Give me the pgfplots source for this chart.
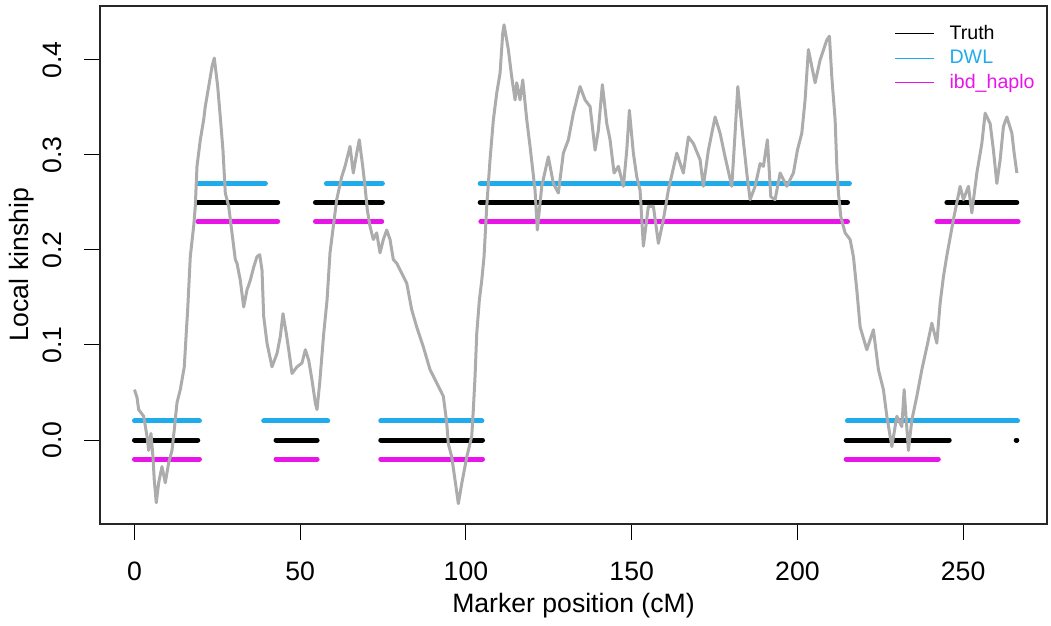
\documentclass[border=0pt]{standalone}
\usepackage{fontspec}
\setmainfont{Liberation Sans}
\usepackage{pgfplots}
\pgfplotsset{compat=1.18}
\usetikzlibrary{calc}
\definecolor{dwl}{RGB}{32,172,234}
\definecolor{ibd}{RGB}{232,20,232}
\definecolor{kin}{RGB}{172,172,172}

\begin{document}
\begin{tikzpicture}
\begin{axis}[
  name=ax,
  scale only axis, width=473.5pt, height=259pt,
  xmin=-10.4, xmax=275.3, ymin=-0.0884, ymax=0.4568,
  xtick={0,50,100,150,200,250},
  ytick={0,0.1,0.2,0.3,0.4},
  xtick pos=bottom, ytick pos=left,
  tick align=outside, major tick length=8pt,
  tick style={black, line width=0.5pt},
  axis line style={line width=0.6pt, black!85},
  /pgf/number format/assume math mode=true,
  ticklabel style={font=\fontsize{13.3}{16}\selectfont},
  xticklabel style={yshift=-7.5pt},
  yticklabel style={rotate=90, anchor=south, yshift=7.5pt,
    /pgf/number format/.cd, fixed, fixed zerofill, precision=1},
  scaled y ticks=false,
  xlabel={Marker position (cM)},
  ylabel={Local kinship},
  label style={font=\fontsize{13.3}{16}\selectfont},
  xlabel style={at={(axis description cs:0.5,0)}, anchor=center, yshift=-41pt},
  ylabel style={at={(axis description cs:-0.0824,0.5)}, anchor=center},
  unbounded coords=jump,
  legend style={draw=none, fill=none, at={(axis cs:229.2,0.439)}, anchor=north west,
    inner xsep=0pt, inner ysep=0pt, row sep=1.75pt,
    nodes={inner ysep=0pt, text height=8pt, text depth=2.5pt},
    font=\fontsize{9.8}{11}\selectfont},
  legend cell align=left,
  legend image code/.code={\draw[#1, line width=0.6pt] (0pt,0pt) -- (19.5pt,0pt);
    \path (25pt,0pt);},
]
\addlegendimage{black}
\addlegendentry{Truth}
\addlegendimage{dwl}
\addlegendentry{\textcolor{dwl}{DWL}}
\addlegendimage{ibd}
\addlegendentry{\textcolor{ibd}{ibd\_haplo}}

% called segments
\addplot[forget plot, black, line width=2.5pt, line cap=round] coordinates {
(0,0) (19.1,0) (19.1,nan)
(19.1,0.25) (43.2,0.25) (43.2,nan)
(42.7,0) (55.1,0) (55.1,nan)
(54.6,0.25) (74.8,0.25) (74.8,nan)
(74.3,0) (105,0) (105,nan)
(104.3,0.25) (215.1,0.25) (215.1,nan)
(214.7,0) (245.8,0) (245.8,nan)
(245.1,0.25) (266.2,0.25) (266.2,nan)
(266.0,0) (266.2,0)
};
\addplot[forget plot, dwl, line width=2.5pt, line cap=round] coordinates {
(0,0.02) (19.6,0.02) (19.6,nan)
(19.1,0.27) (39.5,0.27) (39.5,nan)
(39.0,0.02) (58.3,0.02) (58.3,nan)
(57.9,0.27) (74.8,0.27) (74.8,nan)
(74.3,0.02) (104.8,0.02) (104.8,nan)
(104.3,0.27) (215.7,0.27) (215.7,nan)
(215.1,0.02) (266.4,0.02)
};
\addplot[forget plot, ibd, line width=2.5pt, line cap=round] coordinates {
(0,-0.02) (19.6,-0.02) (19.6,nan)
(19.1,0.23) (43.2,0.23) (43.2,nan)
(42.7,-0.02) (55.1,-0.02) (55.1,nan)
(54.6,0.23) (74.6,0.23) (74.6,nan)
(74.3,-0.02) (105,-0.02) (105,nan)
(104.5,0.23) (215.1,0.23) (215.1,nan)
(214.7,-0.02) (242.5,-0.02) (242.5,nan)
(242.1,0.23) (266.6,0.23)
};

% local kinship estimate
\addplot[forget plot, kin, line width=1.5pt, line join=round] table {
x y
0.00 0.053
0.75 0.045
1.27 0.032
2.78 0.025
3.77 0.004
4.28 -0.011
4.98 0.007
5.58 -0.018
5.97 -0.042
6.58 -0.066
7.30 -0.045
8.30 -0.028
9.29 -0.045
10.32 -0.024
11.32 -0.011
12.01 0.011
12.82 0.039
13.82 0.053
15.03 0.077
15.63 0.113
16.05 0.137
16.84 0.193
17.86 0.225
18.35 0.246
18.86 0.288
19.86 0.316
20.88 0.337
21.36 0.351
22.39 0.372
23.39 0.393
24.08 0.402
25.11 0.372
25.89 0.340
26.70 0.305
27.40 0.260
28.42 0.246
29.42 0.218
30.42 0.190
30.93 0.186
31.93 0.168
32.95 0.140
33.95 0.158
34.94 0.168
35.97 0.182
36.96 0.193
37.78 0.195
38.47 0.179
38.99 0.130
39.98 0.102
41.49 0.077
43.00 0.091
44.00 0.109
44.81 0.133
45.81 0.112
46.53 0.095
47.53 0.070
49.03 0.077
50.54 0.081
51.54 0.095
52.56 0.084
53.56 0.063
54.56 0.039
55.07 0.032
55.88 0.060
57.09 0.112
58.09 0.147
58.99 0.197
61.01 0.253
62.52 0.277
63.52 0.288
65.03 0.309
66.02 0.281
67.05 0.302
67.83 0.316
68.86 0.288
69.55 0.267
70.25 0.242
71.06 0.225
72.06 0.211
73.08 0.218
74.08 0.197
75.08 0.211
76.10 0.221
77.10 0.211
78.09 0.190
79.12 0.186
82.14 0.165
83.65 0.137
85.15 0.119
87.15 0.098
89.17 0.074
91.19 0.060
93.18 0.046
94.21 0.018
94.69 -0.004
95.72 -0.018
96.71 -0.042
97.71 -0.067
98.73 -0.046
100.24 -0.018
101.75 0.004
102.23 0.032
102.75 0.067
103.26 0.112
104.04 0.147
104.77 0.168
105.46 0.193
106.28 0.246
107.27 0.295
108.27 0.337
109.29 0.365
110.29 0.386
111.10 0.428
111.50 0.437
112.79 0.411
113.82 0.382
114.82 0.358
115.33 0.376
116.33 0.358
117.14 0.379
118.35 0.337
119.34 0.309
120.85 0.263
121.54 0.221
122.87 0.267
124.86 0.298
126.37 0.270
127.88 0.260
129.39 0.302
130.90 0.316
132.41 0.344
134.43 0.372
135.94 0.358
137.45 0.351
138.96 0.305
139.95 0.326
141.16 0.374
142.49 0.333
143.48 0.316
144.69 0.281
145.99 0.288
147.50 0.267
148.52 0.305
149.31 0.347
150.51 0.302
151.54 0.277
152.53 0.263
153.53 0.204
155.04 0.246
156.55 0.246
158.06 0.207
159.57 0.232
161.07 0.263
163.61 0.302
165.60 0.281
167.11 0.319
168.62 0.312
170.64 0.295
171.63 0.267
173.14 0.305
175.17 0.340
176.67 0.323
178.18 0.298
180.20 0.267
181.20 0.323
182.02 0.372
183.22 0.330
184.73 0.281
185.73 0.253
187.24 0.267
188.75 0.291
189.74 0.288
190.95 0.316
191.97 0.256
193.27 0.253
194.78 0.281
196.80 0.267
198.79 0.281
200.00 0.305
201.33 0.323
202.32 0.358
203.32 0.411
204.35 0.393
205.34 0.376
206.85 0.400
208.87 0.421
209.66 0.425
210.38 0.382
211.38 0.337
211.89 0.288
212.37 0.260
213.10 0.235
214.39 0.218
215.90 0.211
216.90 0.193
217.92 0.158
218.92 0.119
220.94 0.095
222.93 0.116
224.44 0.074
225.95 0.053
226.98 0.025
228.49 -0.007
229.99 0.025
231.50 0.014
232.20 0.053
233.49 -0.011
234.52 0.021
236.03 0.046
237.54 0.074
239.05 0.098
240.56 0.123
242.06 0.102
243.06 0.144
244.06 0.172
245.08 0.194
247.07 0.232
249.09 0.267
250.09 0.253
251.60 0.267
252.62 0.239
254.13 0.281
255.64 0.312
256.64 0.344
258.15 0.333
259.14 0.305
260.17 0.270
261.17 0.295
262.16 0.330
263.19 0.340
264.70 0.323
265.39 0.302
266.21 0.281
};
\end{axis}
\useasboundingbox ($(ax.south west)+(-50pt,-48pt)$) rectangle ($(ax.north east)+(2pt,3pt)$);
\end{tikzpicture}
\end{document}
